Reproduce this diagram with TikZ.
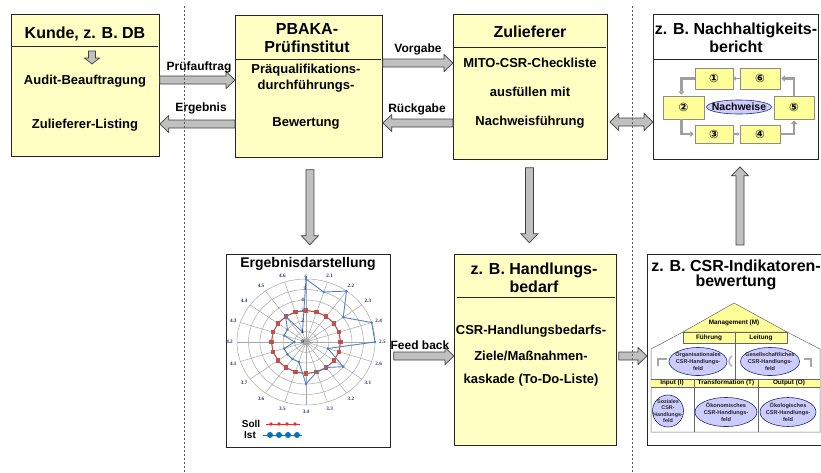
\documentclass[tikz,border=0pt]{standalone}
\usepackage{fontspec}
\setmainfont{Liberation Sans}
\newfontfamily\dejavu{DejaVu Sans}
\newfontfamily\serifb{Liberation Serif}
\usetikzlibrary{calc,arrows.meta,shapes.geometric}
\definecolor{boxyellow}{HTML}{FFFFC4}
\definecolor{inyellow}{HTML}{FFFF99}
\definecolor{lav}{HTML}{CCCCFF}
\definecolor{navy}{HTML}{1F2F6F}
\definecolor{arrgray}{HTML}{C0C0C0}
\definecolor{sollc}{HTML}{C0504D}
\definecolor{istc}{HTML}{4F81BD}
\definecolor{sollleg}{HTML}{FF2020}
\definecolor{istleg}{HTML}{0070C0}
\definecolor{gridc}{HTML}{A8A8A8}

\newcommand\barrow[5]{%
  \path[barrowsty] let \p1=(#1), \p2=(#2),
    \n1={atan2(\y2-\y1,\x2-\x1)}, \n2={veclen(\x2-\x1,\y2-\y1)} in
    [shift={(\p1)}, rotate=\n1]
    (0pt,#3) -- ({\n2*1pt-#5},#3) -- ({\n2*1pt-#5},#4) -- ({\n2*1pt},0pt)
    -- ({\n2*1pt-#5},-#4) -- ({\n2*1pt-#5},-#3) -- (0pt,-#3) -- cycle;}
\newcommand\dbarrow[5]{%
  \path[barrowsty] let \p1=(#1), \p2=(#2),
    \n1={atan2(\y2-\y1,\x2-\x1)}, \n2={veclen(\x2-\x1,\y2-\y1)} in
    [shift={(\p1)}, rotate=\n1]
    (0pt,0pt) -- (#5,#4) -- (#5,#3) -- ({\n2*1pt-#5},#3) -- ({\n2*1pt-#5},#4) -- ({\n2*1pt},0pt)
    -- ({\n2*1pt-#5},-#4) -- ({\n2*1pt-#5},-#3) -- (#5,-#3) -- (#5,-#4) -- cycle;}

\begin{document}
\begin{tikzpicture}[x=1pt,y=-1pt,
  mainbox/.style={draw=black!85, line width=0.8pt, fill=boxyellow, inner sep=0pt, anchor=north west},
  whitebox/.style={mainbox, fill=white},
  ttl/.style={font=\bfseries\fontsize{16}{18}\selectfont, align=center, inner sep=0pt},
  bdy/.style={font=\bfseries\fontsize{13}{15}\selectfont, align=center, inner sep=0pt},
  lbl/.style={font=\bfseries\fontsize{12}{13}\selectfont, inner sep=0pt},
  barrowsty/.style={draw=black!75, fill=arrgray, line width=0.7pt, line join=miter},
  smallbox/.style={draw=black!45, fill=inyellow, line width=0.5pt, inner sep=0pt},
  garr/.style={draw=gray!75, line width=2.2pt, -{Triangle[length=3.5pt,width=6pt]}},
  lavell/.style={ellipse, draw=navy, fill=lav, line width=0.6pt, inner sep=0pt},
  tinyt/.style={font=\bfseries\fontsize{5.6}{6.8}\selectfont, align=center, inner sep=0pt, text=black!85},
  bandt/.style={font=\bfseries\fontsize{6.4}{7}\selectfont, inner sep=0pt},
  radlab/.style={font=\serifb\bfseries\fontsize{5.2}{6}\selectfont, text=navy, inner sep=0pt},
  houseline/.style={draw=black!60, line width=0.5pt},
  dashline/.style={draw=black!65, line width=0.6pt, dash pattern=on 2pt off 2pt}
]
\useasboundingbox (0,0) rectangle (821,472);

% ---------------- main boxes ----------------
\node[mainbox, minimum width=148pt, minimum height=142pt] (kunde) at (11,14) {};
\node[mainbox, minimum width=147pt, minimum height=142pt] (pbaka) at (235,15) {};
\node[mainbox, minimum width=154pt, minimum height=145pt] (zulief) at (453,14) {};
\node[whitebox, minimum width=165pt, minimum height=145pt] (nachh) at (653,14) {};
\node[whitebox, minimum width=164pt, minimum height=193pt] (ergeb) at (226,254) {};
\node[mainbox, minimum width=162pt, minimum height=191pt] (handl) at (454,254) {};
\node[whitebox, minimum width=180pt, minimum height=191pt] (csr) at (647,254) {};

% dividers
\draw[black!85, line width=0.7pt] (12,46) -- (158,46);
\draw[black!85, line width=0.7pt] (236,59) -- (381,59);
\draw[black!85, line width=0.7pt] (454,47) -- (606,47);
\draw[black!85, line width=0.7pt] (654,59) -- (817,59);
\draw[black!85, line width=0.7pt] (457,297) -- (615,297);

% ---------------- texts of main boxes ----------------
\node[ttl] (kundeT) at (85,34) {Kunde, z. B. DB};
\node[bdy] (kundeB1) at (85,81) {Audit-Beauftragung};
\node[bdy] (kundeB2) at (85,125) {Zulieferer-Listing};

\node[ttl] (pbakaT) at (307,38) {PBAKA-\\Prüfinstitut};
\node[bdy, font=\bfseries\fontsize{13}{16}\selectfont] (pbakaB1) at (306,78) {Präqualifikations-\\durchführungs-};
\node[bdy] (pbakaB2) at (306,123) {Bewertung};

\node[ttl] (zuliefT) at (530,32) {Zulieferer};
\node[bdy] (zuliefB1) at (530,63) {MITO-CSR-Checkliste};
\node[bdy] (zuliefB2) at (530,92) {ausfüllen mit};
\node[bdy] (zuliefB3) at (530,122) {Nachweisführung};

\node[ttl] (nachhT) at (736,38) {z. B. Nachhaltigkeits-\\bericht};

\node[font=\bfseries\fontsize{14}{16}\selectfont, inner sep=0pt] (ergebT) at (308,264) {Ergebnisdarstellung};

\node[ttl] (handlT) at (534,278) {z. B. Handlungs-\\bedarf};
\node[bdy] (handlB1) at (531,331) {CSR-Handlungsbedarfs-};
\node[bdy] (handlB2) at (531,356) {Ziele/Maßnahmen-};
\node[bdy] (handlB3) at (531,380) {kaskade (To-Do-Liste)};

\node[ttl, font=\bfseries\fontsize{16}{15}\selectfont] (csrT) at (736,275) {z. B. CSR-Indikatoren-\\bewertung};

% ---------------- block arrows between boxes ----------------
\coordinate (yA) at (0,80);
\coordinate (yB) at (0,124);
\coordinate (yC) at (0,63);
\coordinate (yD) at (0,123);
\coordinate (yE) at (0,122);
\coordinate (yF) at (0,356);
\coordinate (xU) at (740,0);

\barrow{kunde.east|-yA}{pbaka.west|-yA}{4pt}{8.5pt}{9pt}
\barrow{pbaka.west|-yB}{kunde.east|-yB}{4pt}{8.5pt}{9pt}
\barrow{pbaka.east|-yC}{zulief.west|-yC}{4pt}{8.5pt}{9pt}
\barrow{zulief.west|-yD}{pbaka.east|-yD}{4pt}{8.5pt}{9pt}
\dbarrow{$(zulief.east|-yE)+(2,0)$}{nachh.west|-yE}{4pt}{8.5pt}{9pt}
\barrow{$(pbaka.south)+(1,12)$}{$(pbaka.south)+(1,87)$}{4pt}{8.5pt}{9pt}
\barrow{$(zulief.south)+(-1,8)$}{$(zulief.south)+(-1,83)$}{4pt}{8.5pt}{9pt}
\barrow{$(ergeb.east|-yF)+(3,0)$}{handl.west|-yF}{4pt}{8.5pt}{9pt}
\barrow{$(handl.east|-yF)+(2,0)$}{csr.west|-yF}{4pt}{8.5pt}{9pt}
\barrow{$(csr.north-|xU)+(0,-9)$}{$(nachh.south-|xU)+(0,7)$}{4pt}{8.5pt}{9pt}
% small arrow inside Kunde box
\coordinate (ka1) at (92,51);
\coordinate (ka2) at (92,64);
\barrow{ka1}{ka2}{3.5pt}{7.5pt}{6pt}

\node[lbl] (lPruef) at (199,67) {Prüfauftrag};
\node[lbl] (lErg) at (201,108) {Ergebnis};
\node[lbl] (lVorg) at (418,49) {Vorgabe};
\node[lbl] (lRueck) at (417,109) {Rückgabe};
\node[lbl] (lFeed) at (420,345) {Feed back};

% ---------------- Nachhaltigkeitsbericht cycle ----------------
\node[smallbox, minimum width=38pt, minimum height=21pt] (n1) at (714,78.5) {};
\node[smallbox, minimum width=40pt, minimum height=21pt] (n6) at (760,78.5) {};
\node[smallbox, minimum width=41pt, minimum height=23pt] (n2) at (683.5,107.5) {};
\node[smallbox, minimum width=40pt, minimum height=23pt] (n5) at (794,107.5) {};
\node[smallbox, minimum width=38pt, minimum height=18pt] (n3) at (714,134) {};
\node[smallbox, minimum width=40pt, minimum height=18pt] (n4) at (760,134) {};
\foreach \n/\g in {1/①,2/②,3/③,4/④,5/⑤,6/⑥}
  \node[font=\dejavu\bfseries\fontsize{11.5}{12}\selectfont, inner sep=0pt] (c\n) at (n\n) {\g};
\draw[garr] (n1.west) -| ($(n2.north)+(-2,-1)$);
\draw[garr] ($(n2.south)+(-2,0)$) |- ($(n3.west)+(-1,0)$);
\draw[garr, line width=1.2pt, -{Triangle[length=2.5pt,width=4pt]}] (n3.east) -- (n4.west);
\draw[garr] (n4.east) -| ($(n5.south)+(0,1)$);
\draw[garr] (n5.north) |- ($(n6.east)+(1,0)$);
\draw[garr, line width=1.2pt, -{Triangle[length=2.5pt,width=4pt]}] (n6.west) -- (n1.east);
\node[lavell, minimum width=65pt, minimum height=14pt] (nachw) at (739,107) {};
\node[font=\bfseries\fontsize{10.5}{11}\selectfont, inner sep=0pt] (nachwT) at (nachw) {Nachweise};

% ---------------- radar chart ----------------
\begin{scope}[shift={(306,342)}]
\begin{scope}[x=11.5pt,y=10.5pt]
  \foreach \i in {0,...,19} \draw[gridc, line width=0.5pt] (0,0) -- ({90-18*\i}:6);
  \foreach \r in {1,...,6} \draw[gridc, line width=0.5pt] (0,0) ellipse [x radius={11.5pt*\r}, y radius={10.5pt*\r}];
  \fill[gray!70] (0,0) ellipse [x radius=4pt, y radius=3.5pt];
  % Soll
  \draw[sollc, line width=1pt] (90:3) \foreach \i in {1,...,19} {-- ({90-18*\i}:3)} -- cycle;
  \foreach \i in {0,...,19} \fill[sollc] ({90-18*\i}:3) ++(-2.2pt,-2.2pt) rectangle ++(4.4pt,4.4pt);
  % Ist
  \draw[istc, line width=0.9pt] (90:6) \foreach \v [count=\i] in {5,6,4,6,6,2,4,3,3,4,2,2,2,2,1,2,2,3,1} {-- ({90-18*\i}:\v)} -- cycle;
  \foreach \v [count=\i from 0] in {6,5,6,4,6,6,2,4,3,3,4,2,2,2,2,1,2,2,3,1} \fill[istc] ({90-18*\i}:\v) circle (1.4pt);
  % labels
  \foreach \l [count=\i from 1] in {2.1,2.2,2.3,2.4,2.5,2.6,3.1,3.2,3.3,3.4,3.5,3.6,3.7,4.1,4.2,4.3,4.4,4.5,4.6}
    \node[radlab] (ax\i) at ({90-18*\i}:6.65) {\l};
  \foreach \v in {0,...,4} \node[radlab] (sc\v) at (-0.3,\v) {\v};
  \node[radlab] (sc5) at (-0.1,5.05) {5};
  \node[radlab] (sc6) at (0,6.2) {6};
\end{scope}
\end{scope}
% legend
\node[font=\bfseries\fontsize{10}{11}\selectfont, inner sep=0pt] (lSoll) at (251,424) {Soll};
\node[font=\bfseries\fontsize{10}{11}\selectfont, inner sep=0pt] (lIst) at (250,435) {Ist};
\coordinate (sl1) at (266,424); \coordinate (sl2) at (300,424);
\coordinate (il1) at (263,435); \coordinate (il2) at (302,435);
\draw[sollleg, line width=0.8pt] (sl1) -- (sl2);
\foreach \x in {271,279,287,295} \fill[sollleg] (\x,424) circle (1.8pt);
\draw[istleg, line width=1pt] (il1) -- (il2);
\foreach \x in {270,279,288,297} \fill[istleg] (\x,435) circle (3pt);

% ---------------- CSR house ----------------
\draw[houseline] (683,332) -- (651,349) -- (651,432) -- (820,432) -- (820,349) -- (787,332);
\draw[houseline] (735,343) -- (735,379);
\fill[inyellow] (651,379) rectangle (820,387);
\draw[houseline] (651,379) -- (820,379);
\draw[houseline] (651,387) -- (820,387);
\draw[houseline] (694,379) -- (694,432);
\draw[houseline] (758,379) -- (758,432);
\draw[houseline, fill=inyellow] (734,303) -- (787,332) -- (683,332) -- cycle;
\draw[houseline, fill=inyellow] (683,332) rectangle (735,343);
\draw[houseline, fill=inyellow] (735,332) rectangle (787,343);
\node[bandt] (hM) at (734,323) {Management (M)};
\node[bandt] (hF) at (709,337.5) {Führung};
\node[bandt] (hL) at (761,337.5) {Leitung};
\node[bandt] (hI) at (672,383) {Input (I)};
\node[bandt] (hT) at (726,383) {Transformation (T)};
\node[bandt] (hO) at (789,383) {Output (O)};

\node[lavell, minimum width=58pt, minimum height=28pt] (eOrg) at (698,361.5) {};
\node[tinyt] (tOrg) at (eOrg) {Organisationales\\CSR-Handlungs-\\feld};
\node[lavell, minimum width=59pt, minimum height=28pt] (eGes) at (770,361.5) {};
\node[tinyt] (tGes) at (eGes) {Gesellschaftliches\\CSR-Handlungs-\\feld};
\node[lavell, minimum width=31pt, minimum height=32pt] (eSoz) at (668,411) {};
\node[tinyt, font=\bfseries\fontsize{5.4}{6.5}\selectfont] (tSoz) at (eSoz) {Soziales\\CSR-\\Handlungs-\\feld};
\node[lavell, minimum width=62pt, minimum height=29pt] (eOek) at (726,412) {};
\node[tinyt] (tOek) at (eOek) {Ökonomisches\\CSR-Handlungs-\\feld};
\node[lavell, minimum width=56pt, minimum height=29pt] (eOeko) at (788,412) {};
\node[tinyt] (tOeko) at (eOeko) {Ökologisches\\CSR-Handlungs-\\feld};
% small gray icons
\draw[gray!70, line width=2.2pt] (667,359) -- (658,359) -- (658,366);
\draw[gray!70, line width=2.2pt] (804,359) -- (811,359) -- (811,367);
\draw[gray!55, line width=1.6pt] (732,356) arc[start angle=120, end angle=240, radius=6pt];

% ---------------- dashed separators ----------------
\draw[dashline] (184,6) -- (184,472);
\draw[dashline] (632,6) -- (632,472);
\end{tikzpicture}
\end{document}
